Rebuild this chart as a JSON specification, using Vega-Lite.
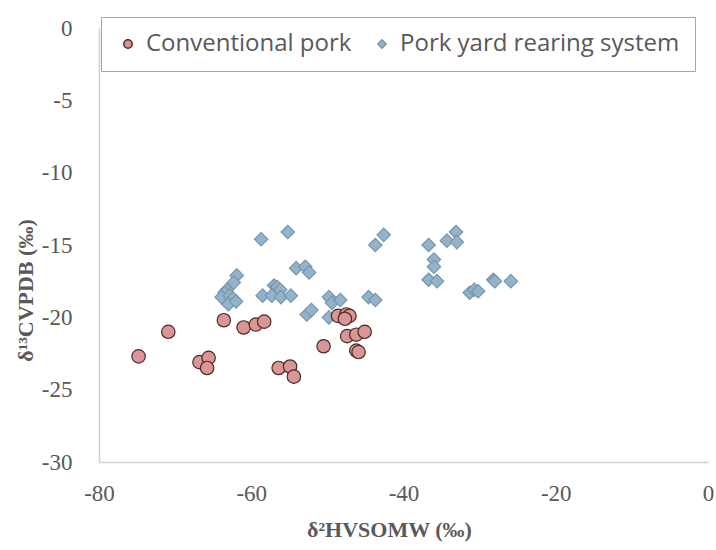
{
  "$schema": "https://vega.github.io/schema/vega-lite/v6.json",
  "width": 609,
  "height": 434,
  "autosize": "none",
  "padding": {"left": 99, "top": 28, "right": 8, "bottom": 88},
  "background": "white",
  "config": {"view": {"stroke": null}},
  "data": {
    "values": [
      {"g": "Pork yard rearing system", "h": -58.7, "c": -14.6},
      {"g": "Pork yard rearing system", "h": -55.2, "c": -14.1},
      {"g": "Pork yard rearing system", "h": -54.1, "c": -16.6},
      {"g": "Pork yard rearing system", "h": -52.9, "c": -16.5},
      {"g": "Pork yard rearing system", "h": -52.4, "c": -16.9},
      {"g": "Pork yard rearing system", "h": -61.9, "c": -17.1},
      {"g": "Pork yard rearing system", "h": -62.3, "c": -17.6},
      {"g": "Pork yard rearing system", "h": -63.2, "c": -18.1},
      {"g": "Pork yard rearing system", "h": -63.5, "c": -18.3},
      {"g": "Pork yard rearing system", "h": -63.9, "c": -18.6},
      {"g": "Pork yard rearing system", "h": -62.8, "c": -18.5},
      {"g": "Pork yard rearing system", "h": -62.4, "c": -18.7},
      {"g": "Pork yard rearing system", "h": -63.0, "c": -19.1},
      {"g": "Pork yard rearing system", "h": -62.0, "c": -18.9},
      {"g": "Pork yard rearing system", "h": -58.5, "c": -18.5},
      {"g": "Pork yard rearing system", "h": -57.0, "c": -17.8},
      {"g": "Pork yard rearing system", "h": -57.3, "c": -18.5},
      {"g": "Pork yard rearing system", "h": -56.6, "c": -17.9},
      {"g": "Pork yard rearing system", "h": -56.2, "c": -18.1},
      {"g": "Pork yard rearing system", "h": -56.1, "c": -18.6},
      {"g": "Pork yard rearing system", "h": -54.8, "c": -18.5},
      {"g": "Pork yard rearing system", "h": -52.7, "c": -19.8},
      {"g": "Pork yard rearing system", "h": -52.1, "c": -19.5},
      {"g": "Pork yard rearing system", "h": -49.8, "c": -18.6},
      {"g": "Pork yard rearing system", "h": -49.4, "c": -19.0},
      {"g": "Pork yard rearing system", "h": -48.3, "c": -18.8},
      {"g": "Pork yard rearing system", "h": -49.8, "c": -20.0},
      {"g": "Pork yard rearing system", "h": -44.6, "c": -18.6},
      {"g": "Pork yard rearing system", "h": -43.7, "c": -18.8},
      {"g": "Pork yard rearing system", "h": -43.7, "c": -15.0},
      {"g": "Pork yard rearing system", "h": -42.6, "c": -14.3},
      {"g": "Pork yard rearing system", "h": -36.7, "c": -15.0},
      {"g": "Pork yard rearing system", "h": -34.3, "c": -14.7},
      {"g": "Pork yard rearing system", "h": -33.1, "c": -14.1},
      {"g": "Pork yard rearing system", "h": -33.0, "c": -14.8},
      {"g": "Pork yard rearing system", "h": -36.0, "c": -16.0},
      {"g": "Pork yard rearing system", "h": -36.0, "c": -16.5},
      {"g": "Pork yard rearing system", "h": -36.7, "c": -17.4},
      {"g": "Pork yard rearing system", "h": -35.6, "c": -17.5},
      {"g": "Pork yard rearing system", "h": -31.3, "c": -18.3},
      {"g": "Pork yard rearing system", "h": -30.7, "c": -18.1},
      {"g": "Pork yard rearing system", "h": -30.2, "c": -18.2},
      {"g": "Pork yard rearing system", "h": -28.2, "c": -17.4},
      {"g": "Pork yard rearing system", "h": -28.0, "c": -17.5},
      {"g": "Pork yard rearing system", "h": -25.9, "c": -17.5},
      {"g": "Conventional pork", "h": -74.8, "c": -22.7},
      {"g": "Conventional pork", "h": -70.9, "c": -21.0},
      {"g": "Conventional pork", "h": -63.6, "c": -20.2},
      {"g": "Conventional pork", "h": -61.0, "c": -20.7},
      {"g": "Conventional pork", "h": -59.4, "c": -20.5},
      {"g": "Conventional pork", "h": -58.3, "c": -20.3},
      {"g": "Conventional pork", "h": -66.8, "c": -23.1},
      {"g": "Conventional pork", "h": -65.6, "c": -22.8},
      {"g": "Conventional pork", "h": -65.8, "c": -23.5},
      {"g": "Conventional pork", "h": -56.4, "c": -23.5},
      {"g": "Conventional pork", "h": -54.9, "c": -23.4},
      {"g": "Conventional pork", "h": -54.4, "c": -24.1},
      {"g": "Conventional pork", "h": -50.5, "c": -22.0},
      {"g": "Conventional pork", "h": -48.6, "c": -19.9},
      {"g": "Conventional pork", "h": -47.5, "c": -19.8},
      {"g": "Conventional pork", "h": -47.1, "c": -19.9},
      {"g": "Conventional pork", "h": -47.7, "c": -20.1},
      {"g": "Conventional pork", "h": -47.4, "c": -21.3},
      {"g": "Conventional pork", "h": -46.2, "c": -21.2},
      {"g": "Conventional pork", "h": -45.1, "c": -21.0},
      {"g": "Conventional pork", "h": -46.2, "c": -22.3},
      {"g": "Conventional pork", "h": -45.9, "c": -22.4}
    ]
  },
  "mark": {"type": "point", "filled": true, "opacity": 1, "strokeWidth": 1.2, "size": 180},
  "encoding": {
    "x": {
      "field": "h", "type": "quantitative",
      "scale": {"domain": [-80, 0], "nice": false, "zero": false},
      "axis": {
        "values": [-80, -60, -40, -20, 0],
        "labelExpr": "toString(datum.value)",
        "grid": false, "ticks": false,
        "domainColor": "#d0d0d0", "domainWidth": 1.5,
        "labelFont": "Liberation Serif", "labelFontSize": 23, "labelColor": "#595959",
        "labelPadding": 20, "labelFlush": false,
        "title": "δ²HVSOMW (‰)",
        "titleFont": "Liberation Serif", "titleFontSize": 22, "titleFontWeight": "bold", "titleColor": "#595959",
        "titlePadding": 14, "titleX": 290
      }
    },
    "y": {
      "field": "c", "type": "quantitative",
      "scale": {"domain": [-30, 0], "nice": false, "zero": false},
      "axis": {
        "values": [-30, -25, -20, -15, -10, -5, 0],
        "labelExpr": "toString(datum.value)",
        "grid": false, "ticks": false,
        "domainColor": "#d0d0d0", "domainWidth": 1.5,
        "labelFont": "Liberation Serif", "labelFontSize": 23, "labelColor": "#595959",
        "labelPadding": 27, "labelFlush": false,
        "title": "δ¹³CVPDB (‰)",
        "titleFont": "Liberation Serif", "titleFontSize": 22, "titleFontWeight": "bold", "titleColor": "#595959",
        "titleX": -62, "titleY": 262
      }
    },
    "color": {
      "field": "g", "type": "nominal",
      "scale": {"domain": ["Conventional pork", "Pork yard rearing system"], "range": ["#d99694", "#93b3ca"]},
      "legend": {
        "title": null, "orient": "none", "legendX": 2, "legendY": -11,
        "direction": "horizontal",
        "strokeColor": "#a6a6a6", "fillColor": "white", "padding": 15,
        "labelFont": "Open Sans", "labelFontSize": 24, "labelColor": "#595959", "labelLimit": 0,
        "symbolSize": 70, "columnPadding": 18, "labelOffset": 6
      }
    },
    "shape": {
      "field": "g", "type": "nominal",
      "scale": {"domain": ["Conventional pork", "Pork yard rearing system"], "range": ["circle", "diamond"]}
    },
    "stroke": {
      "field": "g", "type": "nominal",
      "scale": {"domain": ["Conventional pork", "Pork yard rearing system"], "range": ["#4a2a2a", "#7895aa"]},
      "legend": null
    }
  }
}
